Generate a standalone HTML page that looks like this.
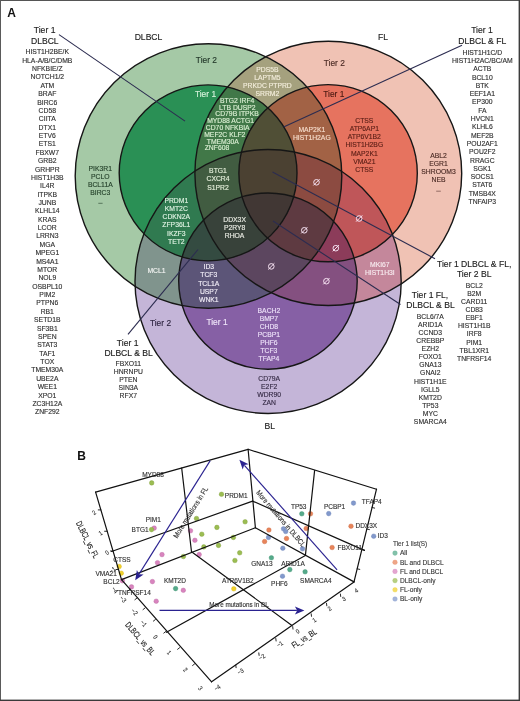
<!DOCTYPE html>
<html><head><meta charset="utf-8"><title>Figure</title>
<style>
html,body{margin:0;padding:0;background:#fff;}
body{width:520px;height:701px;overflow:hidden;}
svg{display:block;will-change:transform;}
text{font-family:"Liberation Sans", sans-serif;}
</style></head>
<body>
<svg width="520" height="701" viewBox="0 0 520 701">
<defs>
<clipPath id="D1"><ellipse cx="208.5" cy="176.0" rx="133.3" ry="132.2"/></clipPath>
<clipPath id="D2"><ellipse cx="208.1" cy="172.9" rx="88.9" ry="88.0"/></clipPath>
<clipPath id="F1"><ellipse cx="328.3" cy="173.4" rx="133.4" ry="132.1"/></clipPath>
<clipPath id="F2"><ellipse cx="328.1" cy="173.2" rx="89.2" ry="88.6"/></clipPath>
<clipPath id="B1"><ellipse cx="268.1" cy="281.45" rx="133.1" ry="132.0"/></clipPath>
<clipPath id="B2"><ellipse cx="267.95" cy="281.1" rx="89.25" ry="88.1"/></clipPath>
</defs>
<rect x="0" y="0" width="520" height="701" fill="#fff"/>
<g clip-path="url(#B1)"><rect x="60" y="30" width="420" height="400" fill="#c4b5d8"/></g>
<g clip-path="url(#B2)"><rect x="60" y="30" width="420" height="400" fill="#8660a5"/></g>
<g clip-path="url(#F1)"><rect x="60" y="30" width="420" height="400" fill="#f0c2b4"/></g>
<g clip-path="url(#F1)"><g clip-path="url(#B1)"><rect x="60" y="30" width="420" height="400" fill="#c4879b"/></g></g>
<g clip-path="url(#F1)"><g clip-path="url(#B2)"><rect x="60" y="30" width="420" height="400" fill="#845080"/></g></g>
<g clip-path="url(#F2)"><rect x="60" y="30" width="420" height="400" fill="#e6735f"/></g>
<g clip-path="url(#F2)"><g clip-path="url(#B1)"><rect x="60" y="30" width="420" height="400" fill="#bf5659"/></g></g>
<g clip-path="url(#F2)"><g clip-path="url(#B2)"><rect x="60" y="30" width="420" height="400" fill="#8c3c5a"/></g></g>
<g clip-path="url(#D1)"><rect x="60" y="30" width="420" height="400" fill="#a5c9a6"/></g>
<g clip-path="url(#D1)"><g clip-path="url(#B1)"><rect x="60" y="30" width="420" height="400" fill="#80948d"/></g></g>
<g clip-path="url(#D1)"><g clip-path="url(#B2)"><rect x="60" y="30" width="420" height="400" fill="#5c5578"/></g></g>
<g clip-path="url(#D1)"><g clip-path="url(#F1)"><rect x="60" y="30" width="420" height="400" fill="#a5a17e"/></g></g>
<g clip-path="url(#D1)"><g clip-path="url(#F1)"><g clip-path="url(#B1)"><rect x="60" y="30" width="420" height="400" fill="#9a8a90"/></g></g></g>
<g clip-path="url(#D1)"><g clip-path="url(#F1)"><g clip-path="url(#B2)"><rect x="60" y="30" width="420" height="400" fill="#5c465f"/></g></g></g>
<g clip-path="url(#D1)"><g clip-path="url(#F2)"><rect x="60" y="30" width="420" height="400" fill="#a26245"/></g></g>
<g clip-path="url(#D1)"><g clip-path="url(#F2)"><g clip-path="url(#B1)"><rect x="60" y="30" width="420" height="400" fill="#8c4b41"/></g></g></g>
<g clip-path="url(#D1)"><g clip-path="url(#F2)"><g clip-path="url(#B2)"><rect x="60" y="30" width="420" height="400" fill="#5e3a41"/></g></g></g>
<g clip-path="url(#D2)"><rect x="60" y="30" width="420" height="400" fill="#2a9055"/></g>
<g clip-path="url(#D2)"><g clip-path="url(#B1)"><rect x="60" y="30" width="420" height="400" fill="#307a50"/></g></g>
<g clip-path="url(#D2)"><g clip-path="url(#B2)"><rect x="60" y="30" width="420" height="400" fill="#344b41"/></g></g>
<g clip-path="url(#D2)"><g clip-path="url(#F1)"><rect x="60" y="30" width="420" height="400" fill="#417848"/></g></g>
<g clip-path="url(#D2)"><g clip-path="url(#F1)"><g clip-path="url(#B1)"><rect x="60" y="30" width="420" height="400" fill="#415c41"/></g></g></g>
<g clip-path="url(#D2)"><g clip-path="url(#F1)"><g clip-path="url(#B2)"><rect x="60" y="30" width="420" height="400" fill="#38423a"/></g></g></g>
<g clip-path="url(#D2)"><g clip-path="url(#F2)"><rect x="60" y="30" width="420" height="400" fill="#504f36"/></g></g>
<g clip-path="url(#D2)"><g clip-path="url(#F2)"><g clip-path="url(#B1)"><rect x="60" y="30" width="420" height="400" fill="#4b4132"/></g></g></g>
<g clip-path="url(#D2)"><g clip-path="url(#F2)"><g clip-path="url(#B2)"><rect x="60" y="30" width="420" height="400" fill="#413734"/></g></g></g>
<ellipse cx="208.5" cy="176.0" rx="133.3" ry="132.2" fill="none" stroke="#161616" stroke-width="1.4"/>
<ellipse cx="208.1" cy="172.9" rx="88.9" ry="88.0" fill="none" stroke="#161616" stroke-width="1.4"/>
<ellipse cx="328.3" cy="173.4" rx="133.4" ry="132.1" fill="none" stroke="#161616" stroke-width="1.4"/>
<ellipse cx="328.1" cy="173.2" rx="89.2" ry="88.6" fill="none" stroke="#161616" stroke-width="1.4"/>
<ellipse cx="268.1" cy="281.45" rx="133.1" ry="132.0" fill="none" stroke="#161616" stroke-width="1.4"/>
<ellipse cx="267.95" cy="281.1" rx="89.25" ry="88.1" fill="none" stroke="#161616" stroke-width="1.4"/>
<line x1="59" y1="34.6" x2="185" y2="121.1" stroke="#2c2c50" stroke-width="1.1"/>
<line x1="462" y1="45.2" x2="283.6" y2="127.0" stroke="#2c2c50" stroke-width="1.1"/>
<line x1="272.5" y1="172" x2="435" y2="258.7" stroke="#2c2c50" stroke-width="1.1"/>
<line x1="273" y1="221" x2="400.5" y2="304.5" stroke="#2c2c50" stroke-width="1.1"/>
<line x1="128" y1="334.4" x2="198" y2="249.5" stroke="#2c2c50" stroke-width="1.1"/>
<g transform="translate(316.5,182.3)" stroke="#f6e2f2" stroke-width="1.0" fill="none"><circle r="2.8"/><line x1="-3.1" y1="3.1" x2="3.1" y2="-3.1"/></g>
<g transform="translate(359.2,218.5)" stroke="#f6e2f2" stroke-width="1.0" fill="none"><circle r="2.8"/><line x1="-3.1" y1="3.1" x2="3.1" y2="-3.1"/></g>
<g transform="translate(304.3,230.3)" stroke="#f6e2f2" stroke-width="1.0" fill="none"><circle r="2.8"/><line x1="-3.1" y1="3.1" x2="3.1" y2="-3.1"/></g>
<g transform="translate(335.8,248.2)" stroke="#f6e2f2" stroke-width="1.0" fill="none"><circle r="2.8"/><line x1="-3.1" y1="3.1" x2="3.1" y2="-3.1"/></g>
<g transform="translate(271.3,266.4)" stroke="#f6e2f2" stroke-width="1.0" fill="none"><circle r="2.8"/><line x1="-3.1" y1="3.1" x2="3.1" y2="-3.1"/></g>
<g transform="translate(326.4,281.2)" stroke="#f6e2f2" stroke-width="1.0" fill="none"><circle r="2.8"/><line x1="-3.1" y1="3.1" x2="3.1" y2="-3.1"/></g>
<text x="11.6" y="17.3" font-size="12" fill="#111" stroke="#111" stroke-width="0" text-anchor="middle" font-weight="bold">A</text>
<text x="148.5" y="39.7" font-size="8.6" fill="#222" stroke="#222" stroke-width="0.14" text-anchor="middle">DLBCL</text>
<text x="383.0" y="39.5" font-size="8.6" fill="#222" stroke="#222" stroke-width="0.14" text-anchor="middle">FL</text>
<text x="269.7" y="429.0" font-size="8.6" fill="#222" stroke="#222" stroke-width="0.14" text-anchor="middle">BL</text>
<text x="206.4" y="63.1" font-size="8.4" fill="#23382a" stroke="#23382a" stroke-width="0.14" text-anchor="middle">Tier 2</text>
<text x="205.5" y="96.5" font-size="8.4" fill="#d8f3dc" stroke="#d8f3dc" stroke-width="0.14" text-anchor="middle">Tier 1</text>
<text x="334.3" y="66.3" font-size="8.4" fill="#4a2a24" stroke="#4a2a24" stroke-width="0.14" text-anchor="middle">Tier 2</text>
<text x="333.8" y="97.0" font-size="8.4" fill="#4a1a12" stroke="#4a1a12" stroke-width="0.14" text-anchor="middle">Tier 1</text>
<text x="160.5" y="325.5" font-size="8.4" fill="#2e2440" stroke="#2e2440" stroke-width="0.14" text-anchor="middle">Tier 2</text>
<text x="217.0" y="324.6" font-size="8.4" fill="#f0e6fa" stroke="#f0e6fa" stroke-width="0.14" text-anchor="middle">Tier 1</text>
<text x="44.6" y="33.1" font-size="8.6" fill="#222" stroke="#222" stroke-width="0.14" text-anchor="middle">Tier 1</text>
<text x="44.8" y="43.8" font-size="8.6" fill="#222" stroke="#222" stroke-width="0.14" text-anchor="middle">DLBCL</text>
<text x="47.3" y="54.3" font-size="6.8" fill="#303030" stroke="#303030" stroke-width="0.14" text-anchor="middle">HIST1H2BE/K</text>
<text x="47.3" y="62.7" font-size="6.8" fill="#303030" stroke="#303030" stroke-width="0.14" text-anchor="middle">HLA-A/B/C/DMB</text>
<text x="47.3" y="71.0" font-size="6.8" fill="#303030" stroke="#303030" stroke-width="0.14" text-anchor="middle">NFKBIE/Z</text>
<text x="47.3" y="79.4" font-size="6.8" fill="#303030" stroke="#303030" stroke-width="0.14" text-anchor="middle">NOTCH1/2</text>
<text x="47.3" y="87.8" font-size="6.8" fill="#303030" stroke="#303030" stroke-width="0.14" text-anchor="middle">ATM</text>
<text x="47.3" y="96.1" font-size="6.8" fill="#303030" stroke="#303030" stroke-width="0.14" text-anchor="middle">BRAF</text>
<text x="47.3" y="104.5" font-size="6.8" fill="#303030" stroke="#303030" stroke-width="0.14" text-anchor="middle">BIRC6</text>
<text x="47.3" y="112.9" font-size="6.8" fill="#303030" stroke="#303030" stroke-width="0.14" text-anchor="middle">CD58</text>
<text x="47.3" y="121.3" font-size="6.8" fill="#303030" stroke="#303030" stroke-width="0.14" text-anchor="middle">CIITA</text>
<text x="47.3" y="129.6" font-size="6.8" fill="#303030" stroke="#303030" stroke-width="0.14" text-anchor="middle">DTX1</text>
<text x="47.3" y="138.0" font-size="6.8" fill="#303030" stroke="#303030" stroke-width="0.14" text-anchor="middle">ETV6</text>
<text x="47.3" y="146.4" font-size="6.8" fill="#303030" stroke="#303030" stroke-width="0.14" text-anchor="middle">ETS1</text>
<text x="47.3" y="154.7" font-size="6.8" fill="#303030" stroke="#303030" stroke-width="0.14" text-anchor="middle">FBXW7</text>
<text x="47.3" y="163.1" font-size="6.8" fill="#303030" stroke="#303030" stroke-width="0.14" text-anchor="middle">GRB2</text>
<text x="47.3" y="171.5" font-size="6.8" fill="#303030" stroke="#303030" stroke-width="0.14" text-anchor="middle">GRHPR</text>
<text x="47.3" y="179.8" font-size="6.8" fill="#303030" stroke="#303030" stroke-width="0.14" text-anchor="middle">HIST1H3B</text>
<text x="47.3" y="188.2" font-size="6.8" fill="#303030" stroke="#303030" stroke-width="0.14" text-anchor="middle">IL4R</text>
<text x="47.3" y="196.6" font-size="6.8" fill="#303030" stroke="#303030" stroke-width="0.14" text-anchor="middle">ITPKB</text>
<text x="47.3" y="205.0" font-size="6.8" fill="#303030" stroke="#303030" stroke-width="0.14" text-anchor="middle">JUNB</text>
<text x="47.3" y="213.3" font-size="6.8" fill="#303030" stroke="#303030" stroke-width="0.14" text-anchor="middle">KLHL14</text>
<text x="47.3" y="221.7" font-size="6.8" fill="#303030" stroke="#303030" stroke-width="0.14" text-anchor="middle">KRAS</text>
<text x="47.3" y="230.1" font-size="6.8" fill="#303030" stroke="#303030" stroke-width="0.14" text-anchor="middle">LCOR</text>
<text x="47.3" y="238.4" font-size="6.8" fill="#303030" stroke="#303030" stroke-width="0.14" text-anchor="middle">LRRN3</text>
<text x="47.3" y="246.8" font-size="6.8" fill="#303030" stroke="#303030" stroke-width="0.14" text-anchor="middle">MGA</text>
<text x="47.3" y="255.2" font-size="6.8" fill="#303030" stroke="#303030" stroke-width="0.14" text-anchor="middle">MPEG1</text>
<text x="47.3" y="263.5" font-size="6.8" fill="#303030" stroke="#303030" stroke-width="0.14" text-anchor="middle">MS4A1</text>
<text x="47.3" y="271.9" font-size="6.8" fill="#303030" stroke="#303030" stroke-width="0.14" text-anchor="middle">MTOR</text>
<text x="47.3" y="280.3" font-size="6.8" fill="#303030" stroke="#303030" stroke-width="0.14" text-anchor="middle">NOL9</text>
<text x="47.3" y="288.7" font-size="6.8" fill="#303030" stroke="#303030" stroke-width="0.14" text-anchor="middle">OSBPL10</text>
<text x="47.3" y="297.0" font-size="6.8" fill="#303030" stroke="#303030" stroke-width="0.14" text-anchor="middle">PIM2</text>
<text x="47.3" y="305.4" font-size="6.8" fill="#303030" stroke="#303030" stroke-width="0.14" text-anchor="middle">PTPN6</text>
<text x="47.3" y="313.8" font-size="6.8" fill="#303030" stroke="#303030" stroke-width="0.14" text-anchor="middle">RB1</text>
<text x="47.3" y="322.1" font-size="6.8" fill="#303030" stroke="#303030" stroke-width="0.14" text-anchor="middle">SETD1B</text>
<text x="47.3" y="330.5" font-size="6.8" fill="#303030" stroke="#303030" stroke-width="0.14" text-anchor="middle">SF3B1</text>
<text x="47.3" y="338.9" font-size="6.8" fill="#303030" stroke="#303030" stroke-width="0.14" text-anchor="middle">SPEN</text>
<text x="47.3" y="347.2" font-size="6.8" fill="#303030" stroke="#303030" stroke-width="0.14" text-anchor="middle">STAT3</text>
<text x="47.3" y="355.6" font-size="6.8" fill="#303030" stroke="#303030" stroke-width="0.14" text-anchor="middle">TAF1</text>
<text x="47.3" y="364.0" font-size="6.8" fill="#303030" stroke="#303030" stroke-width="0.14" text-anchor="middle">TOX</text>
<text x="47.3" y="372.4" font-size="6.8" fill="#303030" stroke="#303030" stroke-width="0.14" text-anchor="middle">TMEM30A</text>
<text x="47.3" y="380.7" font-size="6.8" fill="#303030" stroke="#303030" stroke-width="0.14" text-anchor="middle">UBE2A</text>
<text x="47.3" y="389.1" font-size="6.8" fill="#303030" stroke="#303030" stroke-width="0.14" text-anchor="middle">WEE1</text>
<text x="47.3" y="397.5" font-size="6.8" fill="#303030" stroke="#303030" stroke-width="0.14" text-anchor="middle">XPO1</text>
<text x="47.3" y="405.8" font-size="6.8" fill="#303030" stroke="#303030" stroke-width="0.14" text-anchor="middle">ZC3H12A</text>
<text x="47.3" y="414.2" font-size="6.8" fill="#303030" stroke="#303030" stroke-width="0.14" text-anchor="middle">ZNF292</text>
<text x="482.0" y="33.3" font-size="8.6" fill="#222" stroke="#222" stroke-width="0.14" text-anchor="middle">Tier 1</text>
<text x="482.3" y="43.6" font-size="8.6" fill="#222" stroke="#222" stroke-width="0.14" text-anchor="middle">DLBCL &amp; FL</text>
<text x="482.3" y="54.7" font-size="6.8" fill="#303030" stroke="#303030" stroke-width="0.14" text-anchor="middle">HIST1H1C/D</text>
<text x="482.3" y="63.0" font-size="6.8" fill="#303030" stroke="#303030" stroke-width="0.14" text-anchor="middle">HIST1H2AC/BC/AM</text>
<text x="482.3" y="71.3" font-size="6.8" fill="#303030" stroke="#303030" stroke-width="0.14" text-anchor="middle">ACTB</text>
<text x="482.3" y="79.6" font-size="6.8" fill="#303030" stroke="#303030" stroke-width="0.14" text-anchor="middle">BCL10</text>
<text x="482.3" y="87.9" font-size="6.8" fill="#303030" stroke="#303030" stroke-width="0.14" text-anchor="middle">BTK</text>
<text x="482.3" y="96.2" font-size="6.8" fill="#303030" stroke="#303030" stroke-width="0.14" text-anchor="middle">EEF1A1</text>
<text x="482.3" y="104.4" font-size="6.8" fill="#303030" stroke="#303030" stroke-width="0.14" text-anchor="middle">EP300</text>
<text x="482.3" y="112.7" font-size="6.8" fill="#303030" stroke="#303030" stroke-width="0.14" text-anchor="middle">FA</text>
<text x="482.3" y="121.0" font-size="6.8" fill="#303030" stroke="#303030" stroke-width="0.14" text-anchor="middle">HVCN1</text>
<text x="482.3" y="129.3" font-size="6.8" fill="#303030" stroke="#303030" stroke-width="0.14" text-anchor="middle">KLHL6</text>
<text x="482.3" y="137.6" font-size="6.8" fill="#303030" stroke="#303030" stroke-width="0.14" text-anchor="middle">MEF2B</text>
<text x="482.3" y="145.9" font-size="6.8" fill="#303030" stroke="#303030" stroke-width="0.14" text-anchor="middle">POU2AF1</text>
<text x="482.3" y="154.2" font-size="6.8" fill="#303030" stroke="#303030" stroke-width="0.14" text-anchor="middle">POU2F2</text>
<text x="482.3" y="162.5" font-size="6.8" fill="#303030" stroke="#303030" stroke-width="0.14" text-anchor="middle">RRAGC</text>
<text x="482.3" y="170.8" font-size="6.8" fill="#303030" stroke="#303030" stroke-width="0.14" text-anchor="middle">SGK1</text>
<text x="482.3" y="179.1" font-size="6.8" fill="#303030" stroke="#303030" stroke-width="0.14" text-anchor="middle">SOCS1</text>
<text x="482.3" y="187.3" font-size="6.8" fill="#303030" stroke="#303030" stroke-width="0.14" text-anchor="middle">STAT6</text>
<text x="482.3" y="195.6" font-size="6.8" fill="#303030" stroke="#303030" stroke-width="0.14" text-anchor="middle">TMSB4X</text>
<text x="482.3" y="203.9" font-size="6.8" fill="#303030" stroke="#303030" stroke-width="0.14" text-anchor="middle">TNFAIP3</text>
<text x="474.2" y="266.9" font-size="8.6" fill="#222" stroke="#222" stroke-width="0.14" text-anchor="middle">Tier 1 DLBCL &amp; FL,</text>
<text x="474.2" y="277.2" font-size="8.6" fill="#222" stroke="#222" stroke-width="0.14" text-anchor="middle">Tier 2 BL</text>
<text x="474.2" y="287.5" font-size="6.8" fill="#303030" stroke="#303030" stroke-width="0.14" text-anchor="middle">BCL2</text>
<text x="474.2" y="295.6" font-size="6.8" fill="#303030" stroke="#303030" stroke-width="0.14" text-anchor="middle">B2M</text>
<text x="474.2" y="303.8" font-size="6.8" fill="#303030" stroke="#303030" stroke-width="0.14" text-anchor="middle">CARD11</text>
<text x="474.2" y="311.9" font-size="6.8" fill="#303030" stroke="#303030" stroke-width="0.14" text-anchor="middle">CD83</text>
<text x="474.2" y="320.1" font-size="6.8" fill="#303030" stroke="#303030" stroke-width="0.14" text-anchor="middle">EBF1</text>
<text x="474.2" y="328.2" font-size="6.8" fill="#303030" stroke="#303030" stroke-width="0.14" text-anchor="middle">HIST1H1B</text>
<text x="474.2" y="336.3" font-size="6.8" fill="#303030" stroke="#303030" stroke-width="0.14" text-anchor="middle">IRF8</text>
<text x="474.2" y="344.5" font-size="6.8" fill="#303030" stroke="#303030" stroke-width="0.14" text-anchor="middle">PIM1</text>
<text x="474.2" y="352.6" font-size="6.8" fill="#303030" stroke="#303030" stroke-width="0.14" text-anchor="middle">TBL1XR1</text>
<text x="474.2" y="360.8" font-size="6.8" fill="#303030" stroke="#303030" stroke-width="0.14" text-anchor="middle">TNFRSF14</text>
<text x="430.0" y="297.5" font-size="8.6" fill="#222" stroke="#222" stroke-width="0.14" text-anchor="middle">Tier 1 FL,</text>
<text x="430.5" y="307.7" font-size="8.6" fill="#222" stroke="#222" stroke-width="0.14" text-anchor="middle">DLBCL &amp; BL</text>
<text x="430.3" y="318.5" font-size="6.8" fill="#303030" stroke="#303030" stroke-width="0.14" text-anchor="middle">BCL6/7A</text>
<text x="430.3" y="326.6" font-size="6.8" fill="#303030" stroke="#303030" stroke-width="0.14" text-anchor="middle">ARID1A</text>
<text x="430.3" y="334.7" font-size="6.8" fill="#303030" stroke="#303030" stroke-width="0.14" text-anchor="middle">CCND3</text>
<text x="430.3" y="342.9" font-size="6.8" fill="#303030" stroke="#303030" stroke-width="0.14" text-anchor="middle">CREBBP</text>
<text x="430.3" y="351.0" font-size="6.8" fill="#303030" stroke="#303030" stroke-width="0.14" text-anchor="middle">EZH2</text>
<text x="430.3" y="359.1" font-size="6.8" fill="#303030" stroke="#303030" stroke-width="0.14" text-anchor="middle">FOXO1</text>
<text x="430.3" y="367.2" font-size="6.8" fill="#303030" stroke="#303030" stroke-width="0.14" text-anchor="middle">GNA13</text>
<text x="430.3" y="375.3" font-size="6.8" fill="#303030" stroke="#303030" stroke-width="0.14" text-anchor="middle">GNAI2</text>
<text x="430.3" y="383.5" font-size="6.8" fill="#303030" stroke="#303030" stroke-width="0.14" text-anchor="middle">HIST1H1E</text>
<text x="430.3" y="391.6" font-size="6.8" fill="#303030" stroke="#303030" stroke-width="0.14" text-anchor="middle">IGLL5</text>
<text x="430.3" y="399.7" font-size="6.8" fill="#303030" stroke="#303030" stroke-width="0.14" text-anchor="middle">KMT2D</text>
<text x="430.3" y="407.8" font-size="6.8" fill="#303030" stroke="#303030" stroke-width="0.14" text-anchor="middle">TP53</text>
<text x="430.3" y="415.9" font-size="6.8" fill="#303030" stroke="#303030" stroke-width="0.14" text-anchor="middle">MYC</text>
<text x="430.3" y="424.1" font-size="6.8" fill="#303030" stroke="#303030" stroke-width="0.14" text-anchor="middle">SMARCA4</text>
<text x="127.7" y="346.0" font-size="8.6" fill="#222" stroke="#222" stroke-width="0.14" text-anchor="middle">Tier 1</text>
<text x="128.6" y="356.0" font-size="8.6" fill="#222" stroke="#222" stroke-width="0.14" text-anchor="middle">DLBCL &amp; BL</text>
<text x="128.3" y="365.8" font-size="6.8" fill="#303030" stroke="#303030" stroke-width="0.14" text-anchor="middle">FBXO11</text>
<text x="128.3" y="373.9" font-size="6.8" fill="#303030" stroke="#303030" stroke-width="0.14" text-anchor="middle">HNRNPU</text>
<text x="128.3" y="382.1" font-size="6.8" fill="#303030" stroke="#303030" stroke-width="0.14" text-anchor="middle">PTEN</text>
<text x="128.3" y="390.2" font-size="6.8" fill="#303030" stroke="#303030" stroke-width="0.14" text-anchor="middle">SIN3A</text>
<text x="128.3" y="398.3" font-size="6.8" fill="#303030" stroke="#303030" stroke-width="0.14" text-anchor="middle">RFX7</text>
<text x="100.3" y="170.7" font-size="6.8" fill="#24402a" stroke="#24402a" stroke-width="0.14" text-anchor="middle">PIK3R1</text>
<text x="100.3" y="178.9" font-size="6.8" fill="#24402a" stroke="#24402a" stroke-width="0.14" text-anchor="middle">PCLO</text>
<text x="100.3" y="187.1" font-size="6.8" fill="#24402a" stroke="#24402a" stroke-width="0.14" text-anchor="middle">BCL11A</text>
<text x="100.3" y="195.3" font-size="6.8" fill="#24402a" stroke="#24402a" stroke-width="0.14" text-anchor="middle">BIRC3</text>
<line x1="98.3" y1="203.3" x2="102.6" y2="203.3" stroke="#24402a" stroke-width="0.8" stroke-opacity="0.75"/>
<text x="267.4" y="72.0" font-size="6.8" fill="#f4eedc" stroke="#f4eedc" stroke-width="0.14" text-anchor="middle">PDS5B</text>
<text x="267.4" y="80.0" font-size="6.8" fill="#f4eedc" stroke="#f4eedc" stroke-width="0.14" text-anchor="middle">LAPTM5</text>
<text x="267.4" y="88.0" font-size="6.8" fill="#f4eedc" stroke="#f4eedc" stroke-width="0.14" text-anchor="middle">PRKDC PTPRD</text>
<text x="267.4" y="96.0" font-size="6.8" fill="#f4eedc" stroke="#f4eedc" stroke-width="0.14" text-anchor="middle">SRRM2</text>
<text x="237.2" y="102.8" font-size="6.8" fill="#dcf0d4" stroke="#dcf0d4" stroke-width="0.14" text-anchor="middle">BTG2 IRF4</text>
<text x="237.3" y="109.6" font-size="6.8" fill="#dcf0d4" stroke="#dcf0d4" stroke-width="0.14" text-anchor="middle">LTB DUSP2</text>
<text x="237.0" y="116.4" font-size="6.8" fill="#dcf0d4" stroke="#dcf0d4" stroke-width="0.14" text-anchor="middle">CD79B ITPKB</text>
<text x="230.6" y="123.2" font-size="6.8" fill="#dcf0d4" stroke="#dcf0d4" stroke-width="0.14" text-anchor="middle">MYD88 ACTG1</text>
<text x="227.7" y="130.0" font-size="6.8" fill="#dcf0d4" stroke="#dcf0d4" stroke-width="0.14" text-anchor="middle">CD70 NFKBIA</text>
<text x="224.8" y="136.8" font-size="6.8" fill="#dcf0d4" stroke="#dcf0d4" stroke-width="0.14" text-anchor="middle">MEF2C KLF2</text>
<text x="222.8" y="143.6" font-size="6.8" fill="#dcf0d4" stroke="#dcf0d4" stroke-width="0.14" text-anchor="middle">TMEM30A</text>
<text x="217.0" y="150.4" font-size="6.8" fill="#dcf0d4" stroke="#dcf0d4" stroke-width="0.14" text-anchor="middle">ZNF608</text>
<text x="364.3" y="122.6" font-size="6.8" fill="#5a1e16" stroke="#5a1e16" stroke-width="0.14" text-anchor="middle">CTSS</text>
<text x="364.3" y="130.9" font-size="6.8" fill="#5a1e16" stroke="#5a1e16" stroke-width="0.14" text-anchor="middle">ATP6AP1</text>
<text x="364.3" y="139.2" font-size="6.8" fill="#5a1e16" stroke="#5a1e16" stroke-width="0.14" text-anchor="middle">ATP6V1B2</text>
<text x="364.3" y="147.4" font-size="6.8" fill="#5a1e16" stroke="#5a1e16" stroke-width="0.14" text-anchor="middle">HIST1H2BG</text>
<text x="364.3" y="155.7" font-size="6.8" fill="#5a1e16" stroke="#5a1e16" stroke-width="0.14" text-anchor="middle">MAP2K1</text>
<text x="364.3" y="164.0" font-size="6.8" fill="#5a1e16" stroke="#5a1e16" stroke-width="0.14" text-anchor="middle">VMA21</text>
<text x="364.3" y="172.3" font-size="6.8" fill="#5a1e16" stroke="#5a1e16" stroke-width="0.14" text-anchor="middle">CTSS</text>
<text x="311.8" y="132.1" font-size="6.8" fill="#f6dccb" stroke="#f6dccb" stroke-width="0.14" text-anchor="middle">MAP2K1</text>
<text x="311.8" y="139.8" font-size="6.8" fill="#f6dccb" stroke="#f6dccb" stroke-width="0.14" text-anchor="middle">HIST1H2AG</text>
<text x="438.5" y="157.7" font-size="6.8" fill="#4a2a24" stroke="#4a2a24" stroke-width="0.14" text-anchor="middle">ABL2</text>
<text x="438.5" y="165.8" font-size="6.8" fill="#4a2a24" stroke="#4a2a24" stroke-width="0.14" text-anchor="middle">EGR1</text>
<text x="438.5" y="173.9" font-size="6.8" fill="#4a2a24" stroke="#4a2a24" stroke-width="0.14" text-anchor="middle">SHROOM3</text>
<text x="438.5" y="182.0" font-size="6.8" fill="#4a2a24" stroke="#4a2a24" stroke-width="0.14" text-anchor="middle">NEB</text>
<line x1="436.2" y1="191.2" x2="440.8" y2="191.2" stroke="#4a2a24" stroke-width="0.8" stroke-opacity="0.7"/>
<text x="218.0" y="172.7" font-size="6.8" fill="#e6f0dc" stroke="#e6f0dc" stroke-width="0.14" text-anchor="middle">BTG1</text>
<text x="218.0" y="181.1" font-size="6.8" fill="#e6f0dc" stroke="#e6f0dc" stroke-width="0.14" text-anchor="middle">CXCR4</text>
<text x="218.0" y="189.6" font-size="6.8" fill="#e6f0dc" stroke="#e6f0dc" stroke-width="0.14" text-anchor="middle">S1PR2</text>
<text x="176.3" y="202.9" font-size="6.8" fill="#dff3e2" stroke="#dff3e2" stroke-width="0.14" text-anchor="middle">PRDM1</text>
<text x="176.3" y="211.1" font-size="6.8" fill="#dff3e2" stroke="#dff3e2" stroke-width="0.14" text-anchor="middle">KMT2C</text>
<text x="176.3" y="219.3" font-size="6.8" fill="#dff3e2" stroke="#dff3e2" stroke-width="0.14" text-anchor="middle">CDKN2A</text>
<text x="176.3" y="227.4" font-size="6.8" fill="#dff3e2" stroke="#dff3e2" stroke-width="0.14" text-anchor="middle">ZFP36L1</text>
<text x="176.3" y="235.6" font-size="6.8" fill="#dff3e2" stroke="#dff3e2" stroke-width="0.14" text-anchor="middle">IKZF3</text>
<text x="176.3" y="243.8" font-size="6.8" fill="#dff3e2" stroke="#dff3e2" stroke-width="0.14" text-anchor="middle">TET2</text>
<text x="234.6" y="221.5" font-size="6.8" fill="#eceee6" stroke="#eceee6" stroke-width="0.14" text-anchor="middle">DDX3X</text>
<text x="234.6" y="229.6" font-size="6.8" fill="#eceee6" stroke="#eceee6" stroke-width="0.14" text-anchor="middle">P2RY8</text>
<text x="234.6" y="237.7" font-size="6.8" fill="#eceee6" stroke="#eceee6" stroke-width="0.14" text-anchor="middle">RHOA</text>
<text x="156.5" y="273.0" font-size="6.8" fill="#f2f4f2" stroke="#f2f4f2" stroke-width="0.14" text-anchor="middle">MCL1</text>
<text x="208.8" y="269.2" font-size="6.8" fill="#f2eef8" stroke="#f2eef8" stroke-width="0.14" text-anchor="middle">ID3</text>
<text x="208.8" y="277.4" font-size="6.8" fill="#f2eef8" stroke="#f2eef8" stroke-width="0.14" text-anchor="middle">TCF3</text>
<text x="208.8" y="285.6" font-size="6.8" fill="#f2eef8" stroke="#f2eef8" stroke-width="0.14" text-anchor="middle">TCL1A</text>
<text x="208.8" y="293.8" font-size="6.8" fill="#f2eef8" stroke="#f2eef8" stroke-width="0.14" text-anchor="middle">USP7</text>
<text x="208.8" y="302.0" font-size="6.8" fill="#f2eef8" stroke="#f2eef8" stroke-width="0.14" text-anchor="middle">WNK1</text>
<text x="379.8" y="266.8" font-size="6.8" fill="#f8ecf0" stroke="#f8ecf0" stroke-width="0.14" text-anchor="middle">MKI67</text>
<text x="379.8" y="275.0" font-size="6.8" fill="#f8ecf0" stroke="#f8ecf0" stroke-width="0.14" text-anchor="middle">HIST1H3I</text>
<text x="268.9" y="312.8" font-size="6.8" fill="#eee2fa" stroke="#eee2fa" stroke-width="0.14" text-anchor="middle">BACH2</text>
<text x="268.9" y="320.9" font-size="6.8" fill="#eee2fa" stroke="#eee2fa" stroke-width="0.14" text-anchor="middle">BMP7</text>
<text x="268.9" y="328.9" font-size="6.8" fill="#eee2fa" stroke="#eee2fa" stroke-width="0.14" text-anchor="middle">CHD8</text>
<text x="268.9" y="337.0" font-size="6.8" fill="#eee2fa" stroke="#eee2fa" stroke-width="0.14" text-anchor="middle">PCBP1</text>
<text x="268.9" y="345.1" font-size="6.8" fill="#eee2fa" stroke="#eee2fa" stroke-width="0.14" text-anchor="middle">PHF6</text>
<text x="268.9" y="353.2" font-size="6.8" fill="#eee2fa" stroke="#eee2fa" stroke-width="0.14" text-anchor="middle">TCF3</text>
<text x="268.9" y="361.2" font-size="6.8" fill="#eee2fa" stroke="#eee2fa" stroke-width="0.14" text-anchor="middle">TFAP4</text>
<text x="269.2" y="380.5" font-size="6.8" fill="#352a45" stroke="#352a45" stroke-width="0.14" text-anchor="middle">CD79A</text>
<text x="269.2" y="388.6" font-size="6.8" fill="#352a45" stroke="#352a45" stroke-width="0.14" text-anchor="middle">E2F2</text>
<text x="269.2" y="396.6" font-size="6.8" fill="#352a45" stroke="#352a45" stroke-width="0.14" text-anchor="middle">WDR90</text>
<text x="269.2" y="404.6" font-size="6.8" fill="#352a45" stroke="#352a45" stroke-width="0.14" text-anchor="middle">ZAN</text>
<text x="81.5" y="459.7" font-size="12" fill="#111" stroke="#111" stroke-width="0" text-anchor="middle" font-weight="bold">B</text>
<circle cx="151.7" cy="482.9" r="2.3" fill="#9bbd52" stroke="#7e9c38" stroke-width="0.4"/>
<circle cx="221.5" cy="494.3" r="2.3" fill="#9bbd52" stroke="#7e9c38" stroke-width="0.4"/>
<circle cx="154.2" cy="528.1" r="2.3" fill="#d884be" stroke="#bc68a2" stroke-width="0.4"/>
<circle cx="151.5" cy="529.6" r="2.3" fill="#9bbd52" stroke="#7e9c38" stroke-width="0.4"/>
<circle cx="196.5" cy="518.5" r="2.3" fill="#9bbd52" stroke="#7e9c38" stroke-width="0.4"/>
<circle cx="245.1" cy="521.8" r="2.3" fill="#9bbd52" stroke="#7e9c38" stroke-width="0.4"/>
<circle cx="216.9" cy="527.4" r="2.3" fill="#9bbd52" stroke="#7e9c38" stroke-width="0.4"/>
<circle cx="201.8" cy="534.2" r="2.3" fill="#9bbd52" stroke="#7e9c38" stroke-width="0.4"/>
<circle cx="190.5" cy="530.8" r="2.3" fill="#d884be" stroke="#bc68a2" stroke-width="0.4"/>
<circle cx="194.9" cy="540.3" r="2.3" fill="#d884be" stroke="#bc68a2" stroke-width="0.4"/>
<circle cx="203.8" cy="546.9" r="2.3" fill="#9bbd52" stroke="#7e9c38" stroke-width="0.4"/>
<circle cx="218.5" cy="545.4" r="2.3" fill="#9bbd52" stroke="#7e9c38" stroke-width="0.4"/>
<circle cx="233.4" cy="537.4" r="2.3" fill="#9bbd52" stroke="#7e9c38" stroke-width="0.4"/>
<circle cx="199.2" cy="554.6" r="2.3" fill="#d884be" stroke="#bc68a2" stroke-width="0.4"/>
<circle cx="183.4" cy="556.5" r="2.3" fill="#9bbd52" stroke="#7e9c38" stroke-width="0.4"/>
<circle cx="239.7" cy="552.8" r="2.3" fill="#9bbd52" stroke="#7e9c38" stroke-width="0.4"/>
<circle cx="234.9" cy="560.5" r="2.3" fill="#9bbd52" stroke="#7e9c38" stroke-width="0.4"/>
<circle cx="162.0" cy="554.6" r="2.3" fill="#d884be" stroke="#bc68a2" stroke-width="0.4"/>
<circle cx="157.5" cy="562.7" r="2.3" fill="#d884be" stroke="#bc68a2" stroke-width="0.4"/>
<circle cx="119.2" cy="566.5" r="2.3" fill="#f0d02c" stroke="#d4b414" stroke-width="0.4"/>
<circle cx="121.3" cy="573.2" r="2.3" fill="#f0d02c" stroke="#d4b414" stroke-width="0.4"/>
<circle cx="122.4" cy="580.7" r="2.3" fill="#d884be" stroke="#bc68a2" stroke-width="0.4"/>
<circle cx="131.5" cy="586.9" r="2.3" fill="#d884be" stroke="#bc68a2" stroke-width="0.4"/>
<circle cx="152.4" cy="581.6" r="2.3" fill="#d884be" stroke="#bc68a2" stroke-width="0.4"/>
<circle cx="156.2" cy="601.2" r="2.3" fill="#d884be" stroke="#bc68a2" stroke-width="0.4"/>
<circle cx="175.6" cy="588.6" r="2.3" fill="#55aa8a" stroke="#3a8f70" stroke-width="0.4"/>
<circle cx="183.3" cy="590.3" r="2.3" fill="#d884be" stroke="#bc68a2" stroke-width="0.4"/>
<circle cx="233.8" cy="588.8" r="2.3" fill="#f0d02c" stroke="#d4b414" stroke-width="0.4"/>
<circle cx="301.8" cy="513.8" r="2.3" fill="#55aa8a" stroke="#3a8f70" stroke-width="0.4"/>
<circle cx="310.5" cy="513.8" r="2.3" fill="#e8845a" stroke="#c8643c" stroke-width="0.4"/>
<circle cx="328.7" cy="513.6" r="2.3" fill="#8299cc" stroke="#6a80b5" stroke-width="0.4"/>
<circle cx="353.5" cy="503.1" r="2.3" fill="#8299cc" stroke="#6a80b5" stroke-width="0.4"/>
<circle cx="351.0" cy="526.2" r="2.3" fill="#e8845a" stroke="#c8643c" stroke-width="0.4"/>
<circle cx="373.7" cy="536.2" r="2.3" fill="#8299cc" stroke="#6a80b5" stroke-width="0.4"/>
<circle cx="332.1" cy="547.5" r="2.3" fill="#e8845a" stroke="#c8643c" stroke-width="0.4"/>
<circle cx="268.9" cy="530.0" r="2.3" fill="#e8845a" stroke="#c8643c" stroke-width="0.4"/>
<circle cx="283.5" cy="528.8" r="2.3" fill="#8299cc" stroke="#6a80b5" stroke-width="0.4"/>
<circle cx="285.7" cy="531.5" r="2.3" fill="#8299cc" stroke="#6a80b5" stroke-width="0.4"/>
<circle cx="306.2" cy="528.5" r="2.3" fill="#e8845a" stroke="#c8643c" stroke-width="0.4"/>
<circle cx="286.5" cy="538.5" r="2.3" fill="#e8845a" stroke="#c8643c" stroke-width="0.4"/>
<circle cx="268.5" cy="537.4" r="2.3" fill="#8299cc" stroke="#6a80b5" stroke-width="0.4"/>
<circle cx="264.6" cy="541.5" r="2.3" fill="#e8845a" stroke="#c8643c" stroke-width="0.4"/>
<circle cx="282.8" cy="548.2" r="2.3" fill="#8299cc" stroke="#6a80b5" stroke-width="0.4"/>
<circle cx="302.5" cy="548.8" r="2.3" fill="#8299cc" stroke="#6a80b5" stroke-width="0.4"/>
<circle cx="271.4" cy="557.8" r="2.3" fill="#55aa8a" stroke="#3a8f70" stroke-width="0.4"/>
<circle cx="289.8" cy="569.6" r="2.3" fill="#55aa8a" stroke="#3a8f70" stroke-width="0.4"/>
<circle cx="305.1" cy="571.8" r="2.3" fill="#55aa8a" stroke="#3a8f70" stroke-width="0.4"/>
<circle cx="282.5" cy="576.2" r="2.3" fill="#8299cc" stroke="#6a80b5" stroke-width="0.4"/>
<line x1="95.6" y1="492.1" x2="248.1" y2="449.3" stroke="#111" stroke-width="1.2" stroke-linecap="round"/>
<line x1="248.1" y1="449.3" x2="376.5" y2="489.2" stroke="#111" stroke-width="1.2" stroke-linecap="round"/>
<line x1="95.6" y1="492.1" x2="121.5" y2="579.6" stroke="#111" stroke-width="1.2" stroke-linecap="round"/>
<line x1="248.1" y1="449.3" x2="255.4" y2="527.7" stroke="#111" stroke-width="1.2" stroke-linecap="round"/>
<line x1="376.5" y1="489.2" x2="354.0" y2="581.9" stroke="#111" stroke-width="1.2" stroke-linecap="round"/>
<line x1="121.5" y1="579.6" x2="255.4" y2="527.7" stroke="#111" stroke-width="1.2" stroke-linecap="round"/>
<line x1="255.4" y1="527.7" x2="354.0" y2="581.9" stroke="#111" stroke-width="1.2" stroke-linecap="round"/>
<line x1="121.5" y1="579.6" x2="211.6" y2="681.8" stroke="#111" stroke-width="1.2" stroke-linecap="round"/>
<line x1="211.6" y1="681.8" x2="354.0" y2="581.9" stroke="#111" stroke-width="1.2" stroke-linecap="round"/>
<line x1="111.6" y1="551.5" x2="252.6" y2="501.1" stroke="#111" stroke-width="1.2" stroke-linecap="round"/>
<line x1="181.7" y1="468.2" x2="191.5" y2="551.8" stroke="#111" stroke-width="1.2" stroke-linecap="round"/>
<line x1="252.6" y1="501.1" x2="364.4" y2="550.4" stroke="#111" stroke-width="1.2" stroke-linecap="round"/>
<line x1="314.6" y1="470.6" x2="305.4" y2="555.4" stroke="#111" stroke-width="1.2" stroke-linecap="round"/>
<line x1="191.5" y1="551.8" x2="291.6" y2="625.2" stroke="#111" stroke-width="1.2" stroke-linecap="round"/>
<line x1="305.4" y1="555.4" x2="166.5" y2="632.3" stroke="#111" stroke-width="1.2" stroke-linecap="round"/>
<line x1="100.86879999999998" y1="509.9" x2="98.26879999999998" y2="509.9" stroke="#111" stroke-width="0.9" stroke-linecap="round"/>
<line x1="107.18839999999999" y1="531.25" x2="104.5884" y2="531.25" stroke="#111" stroke-width="0.9" stroke-linecap="round"/>
<line x1="113.03439999999999" y1="551.0" x2="110.4344" y2="551.0" stroke="#111" stroke-width="0.9" stroke-linecap="round"/>
<line x1="118.51039999999999" y1="569.5" x2="115.9104" y2="569.5" stroke="#111" stroke-width="0.9" stroke-linecap="round"/>
<line x1="130.0" y1="589.3" x2="128.0" y2="590.9" stroke="#111" stroke-width="0.9" stroke-linecap="round"/>
<line x1="136.9" y1="598.1" x2="134.9" y2="599.7" stroke="#111" stroke-width="0.9" stroke-linecap="round"/>
<line x1="145.0" y1="608.0" x2="143.0" y2="609.6" stroke="#111" stroke-width="0.9" stroke-linecap="round"/>
<line x1="155.4" y1="619.5" x2="153.4" y2="621.1" stroke="#111" stroke-width="0.9" stroke-linecap="round"/>
<line x1="165.8" y1="631.5" x2="163.8" y2="633.1" stroke="#111" stroke-width="0.9" stroke-linecap="round"/>
<line x1="179.6" y1="647.7" x2="177.6" y2="649.3000000000001" stroke="#111" stroke-width="0.9" stroke-linecap="round"/>
<line x1="194.6" y1="663.9" x2="192.6" y2="665.5" stroke="#111" stroke-width="0.9" stroke-linecap="round"/>
<line x1="235.8" y1="665.2" x2="236.10000000000002" y2="667.7" stroke="#111" stroke-width="0.9" stroke-linecap="round"/>
<line x1="258.8" y1="652.9" x2="259.1" y2="655.4" stroke="#111" stroke-width="0.9" stroke-linecap="round"/>
<line x1="275.8" y1="638.5" x2="276.1" y2="641.0" stroke="#111" stroke-width="0.9" stroke-linecap="round"/>
<line x1="292.7" y1="626.6" x2="293.0" y2="629.1" stroke="#111" stroke-width="0.9" stroke-linecap="round"/>
<line x1="311.2" y1="613.8" x2="311.5" y2="616.3" stroke="#111" stroke-width="0.9" stroke-linecap="round"/>
<line x1="326.5" y1="603.3" x2="326.8" y2="605.8" stroke="#111" stroke-width="0.9" stroke-linecap="round"/>
<line x1="340.4" y1="594.0" x2="340.7" y2="596.5" stroke="#111" stroke-width="0.9" stroke-linecap="round"/>
<line x1="372.05825242718447" y1="507.5" x2="374.6582524271845" y2="508.1" stroke="#111" stroke-width="0.9" stroke-linecap="round"/>
<line x1="366.8398058252427" y1="529.0" x2="369.43980582524273" y2="529.6" stroke="#111" stroke-width="0.9" stroke-linecap="round"/>
<line x1="361.8640776699029" y1="549.5" x2="364.4640776699029" y2="550.1" stroke="#111" stroke-width="0.9" stroke-linecap="round"/>
<line x1="357.1796116504854" y1="568.8" x2="359.77961165048544" y2="569.4" stroke="#111" stroke-width="0.9" stroke-linecap="round"/>
<line x1="210.2" y1="460.6" x2="139.2" y2="573.9" stroke="#2a2290" stroke-width="1.15"/>
<path d="M135.2,580.3 L136.9,570.1 L139.0,574.2 L143.6,574.4 Z" fill="#2a2290"/>
<line x1="337.1" y1="569.8" x2="244.4" y2="465.3" stroke="#2a2290" stroke-width="1.15"/>
<path d="M239.4,459.7 L248.7,464.2 L244.2,465.1 L242.7,469.5 Z" fill="#2a2290"/>
<line x1="159.5" y1="610.4" x2="296.9" y2="610.4" stroke="#2a2290" stroke-width="1.15"/>
<path d="M304.4,610.4 L294.9,614.4 L297.2,610.4 L294.9,606.4 Z" fill="#2a2290"/>
<text transform="translate(190.6,512.3) rotate(-57.9) scale(0.86,1)" font-size="7.3" fill="#333" stroke="#333" stroke-width="0.14" text-anchor="middle" y="2.63">More mutations in FL</text>
<text transform="translate(281.0,518.3) rotate(49.5) scale(0.86,1)" font-size="7.3" fill="#333" stroke="#333" stroke-width="0.14" text-anchor="middle" y="2.63">More mutations in DLBCL</text>
<text transform="translate(239.0,604.2) rotate(0.0) scale(0.9,1)" font-size="7.0" fill="#333" stroke="#333" stroke-width="0.14" text-anchor="middle" y="2.52">More mutations in BL</text>
<text transform="translate(87.6,539.6) rotate(63.0) scale(0.72,1)" font-size="8.6" fill="#222" stroke="#222" stroke-width="0.14" text-anchor="middle" y="3.10">DLBCL_vs_FL</text>
<text transform="translate(140.4,638.4) rotate(49.4) scale(0.72,1)" font-size="8.6" fill="#222" stroke="#222" stroke-width="0.14" text-anchor="middle" y="3.10">DLBCL_vs_BL</text>
<text transform="translate(304.0,638.4) rotate(-33.0) scale(0.72,1)" font-size="8.6" fill="#222" stroke="#222" stroke-width="0.14" text-anchor="middle" y="3.10">FL_vs_BL</text>
<text transform="translate(94.0,512.5) rotate(-35.0) scale(0.85,1)" font-size="6.4" fill="#333" stroke="#333" stroke-width="0.14" text-anchor="middle" y="2.30">2</text>
<text transform="translate(100.5,532.9) rotate(-35.0) scale(0.85,1)" font-size="6.4" fill="#333" stroke="#333" stroke-width="0.14" text-anchor="middle" y="2.30">1</text>
<text transform="translate(107.0,552.5) rotate(-35.0) scale(0.85,1)" font-size="6.4" fill="#333" stroke="#333" stroke-width="0.14" text-anchor="middle" y="2.30">0</text>
<text transform="translate(112.3,570.0) rotate(-35.0) scale(0.85,1)" font-size="6.4" fill="#333" stroke="#333" stroke-width="0.14" text-anchor="middle" y="2.30">−1</text>
<text transform="translate(115.0,590.0) rotate(50.0) scale(0.85,1)" font-size="6.4" fill="#333" stroke="#333" stroke-width="0.14" text-anchor="middle" y="2.30">−4</text>
<text transform="translate(123.1,599.2) rotate(50.0) scale(0.85,1)" font-size="6.4" fill="#333" stroke="#333" stroke-width="0.14" text-anchor="middle" y="2.30">−3</text>
<text transform="translate(134.6,611.9) rotate(50.0) scale(0.85,1)" font-size="6.4" fill="#333" stroke="#333" stroke-width="0.14" text-anchor="middle" y="2.30">−2</text>
<text transform="translate(143.8,623.5) rotate(50.0) scale(0.85,1)" font-size="6.4" fill="#333" stroke="#333" stroke-width="0.14" text-anchor="middle" y="2.30">−1</text>
<text transform="translate(155.4,636.8) rotate(50.0) scale(0.85,1)" font-size="6.4" fill="#333" stroke="#333" stroke-width="0.14" text-anchor="middle" y="2.30">0</text>
<text transform="translate(169.2,652.3) rotate(50.0) scale(0.85,1)" font-size="6.4" fill="#333" stroke="#333" stroke-width="0.14" text-anchor="middle" y="2.30">1</text>
<text transform="translate(185.4,669.6) rotate(50.0) scale(0.85,1)" font-size="6.4" fill="#333" stroke="#333" stroke-width="0.14" text-anchor="middle" y="2.30">2</text>
<text transform="translate(200.4,688.1) rotate(50.0) scale(0.85,1)" font-size="6.4" fill="#333" stroke="#333" stroke-width="0.14" text-anchor="middle" y="2.30">3</text>
<text transform="translate(217.3,687.7) rotate(-33.0) scale(0.85,1)" font-size="6.4" fill="#333" stroke="#333" stroke-width="0.14" text-anchor="middle" y="2.30">−4</text>
<text transform="translate(240.4,671.4) rotate(-33.0) scale(0.85,1)" font-size="6.4" fill="#333" stroke="#333" stroke-width="0.14" text-anchor="middle" y="2.30">−3</text>
<text transform="translate(261.9,656.9) rotate(-33.0) scale(0.85,1)" font-size="6.4" fill="#333" stroke="#333" stroke-width="0.14" text-anchor="middle" y="2.30">−2</text>
<text transform="translate(279.8,644.0) rotate(-33.0) scale(0.85,1)" font-size="6.4" fill="#333" stroke="#333" stroke-width="0.14" text-anchor="middle" y="2.30">−1</text>
<text transform="translate(297.5,631.2) rotate(-33.0) scale(0.85,1)" font-size="6.4" fill="#333" stroke="#333" stroke-width="0.14" text-anchor="middle" y="2.30">0</text>
<text transform="translate(314.2,620.0) rotate(-33.0) scale(0.85,1)" font-size="6.4" fill="#333" stroke="#333" stroke-width="0.14" text-anchor="middle" y="2.30">1</text>
<text transform="translate(329.6,608.6) rotate(-33.0) scale(0.85,1)" font-size="6.4" fill="#333" stroke="#333" stroke-width="0.14" text-anchor="middle" y="2.30">2</text>
<text transform="translate(343.8,598.7) rotate(-33.0) scale(0.85,1)" font-size="6.4" fill="#333" stroke="#333" stroke-width="0.14" text-anchor="middle" y="2.30">3</text>
<text transform="translate(356.3,590.4) rotate(-33.0) scale(0.85,1)" font-size="6.4" fill="#333" stroke="#333" stroke-width="0.14" text-anchor="middle" y="2.30">4</text>
<text x="153.0" y="476.7" font-size="6.5" fill="#333" stroke="#333" stroke-width="0.14" text-anchor="middle">MYD88</text>
<text x="236.2" y="498.0" font-size="6.5" fill="#333" stroke="#333" stroke-width="0.14" text-anchor="middle">PRDM1</text>
<text x="153.3" y="521.9" font-size="6.5" fill="#333" stroke="#333" stroke-width="0.14" text-anchor="middle">PIM1</text>
<text x="140.1" y="531.5" font-size="6.5" fill="#333" stroke="#333" stroke-width="0.14" text-anchor="middle">BTG1</text>
<text x="122.0" y="561.7" font-size="6.5" fill="#333" stroke="#333" stroke-width="0.14" text-anchor="middle">CTSS</text>
<text x="106.2" y="576.0" font-size="6.5" fill="#333" stroke="#333" stroke-width="0.14" text-anchor="middle">VMA21</text>
<text x="111.5" y="583.6" font-size="6.5" fill="#333" stroke="#333" stroke-width="0.14" text-anchor="middle">BCL2</text>
<text x="134.4" y="595.0" font-size="6.5" fill="#333" stroke="#333" stroke-width="0.14" text-anchor="middle">TNFRSF14</text>
<text x="174.9" y="583.2" font-size="6.5" fill="#333" stroke="#333" stroke-width="0.14" text-anchor="middle">KMT2D</text>
<text x="237.9" y="582.7" font-size="6.5" fill="#333" stroke="#333" stroke-width="0.14" text-anchor="middle">ATP6V1B2</text>
<text x="298.7" y="509.2" font-size="6.5" fill="#333" stroke="#333" stroke-width="0.14" text-anchor="middle">TP53</text>
<text x="334.6" y="508.8" font-size="6.5" fill="#333" stroke="#333" stroke-width="0.14" text-anchor="middle">PCBP1</text>
<text x="371.8" y="504.0" font-size="6.5" fill="#333" stroke="#333" stroke-width="0.14" text-anchor="middle">TFAP4</text>
<text x="366.3" y="528.1" font-size="6.5" fill="#333" stroke="#333" stroke-width="0.14" text-anchor="middle">DDX3X</text>
<text x="382.7" y="538.1" font-size="6.5" fill="#333" stroke="#333" stroke-width="0.14" text-anchor="middle">ID3</text>
<text x="349.8" y="549.6" font-size="6.5" fill="#333" stroke="#333" stroke-width="0.14" text-anchor="middle">FBXO11</text>
<text x="261.9" y="565.5" font-size="6.5" fill="#333" stroke="#333" stroke-width="0.14" text-anchor="middle">GNA13</text>
<text x="293.0" y="565.6" font-size="6.5" fill="#333" stroke="#333" stroke-width="0.14" text-anchor="middle">ARID1A</text>
<text x="279.4" y="585.6" font-size="6.5" fill="#333" stroke="#333" stroke-width="0.14" text-anchor="middle">PHF6</text>
<text x="315.8" y="583.0" font-size="6.5" fill="#333" stroke="#333" stroke-width="0.14" text-anchor="middle">SMARCA4</text>
<text x="393.0" y="545.8" font-size="6.4" fill="#444" stroke="#444" stroke-width="0.14" text-anchor="start">Tier 1 list(S)</text>
<circle cx="395.0" cy="553.1" r="2.3" fill="#55aa8a" fill-opacity="0.72" stroke="#55aa8a" stroke-opacity="0.8" stroke-width="0.4"/>
<text x="399.9" y="555.4" font-size="6.6" fill="#3a3a3a" stroke="#3a3a3a" stroke-width="0.14" text-anchor="start">All</text>
<circle cx="395.0" cy="562.3" r="2.3" fill="#e8845a" fill-opacity="0.72" stroke="#e8845a" stroke-opacity="0.8" stroke-width="0.4"/>
<text x="399.9" y="564.6" font-size="6.6" fill="#3a3a3a" stroke="#3a3a3a" stroke-width="0.14" text-anchor="start">BL and DLBCL</text>
<circle cx="395.0" cy="571.4" r="2.3" fill="#d884be" fill-opacity="0.72" stroke="#d884be" stroke-opacity="0.8" stroke-width="0.4"/>
<text x="399.9" y="573.7" font-size="6.6" fill="#3a3a3a" stroke="#3a3a3a" stroke-width="0.14" text-anchor="start">FL and DLBCL</text>
<circle cx="395.0" cy="580.6" r="2.3" fill="#9bbd52" fill-opacity="0.72" stroke="#9bbd52" stroke-opacity="0.8" stroke-width="0.4"/>
<text x="399.9" y="582.9" font-size="6.6" fill="#3a3a3a" stroke="#3a3a3a" stroke-width="0.14" text-anchor="start">DLBCL-only</text>
<circle cx="395.0" cy="589.8" r="2.3" fill="#f0d02c" fill-opacity="0.72" stroke="#f0d02c" stroke-opacity="0.8" stroke-width="0.4"/>
<text x="399.9" y="592.1" font-size="6.6" fill="#3a3a3a" stroke="#3a3a3a" stroke-width="0.14" text-anchor="start">FL-only</text>
<circle cx="395.0" cy="599.0" r="2.3" fill="#8299cc" fill-opacity="0.72" stroke="#8299cc" stroke-opacity="0.8" stroke-width="0.4"/>
<text x="399.9" y="601.2" font-size="6.6" fill="#3a3a3a" stroke="#3a3a3a" stroke-width="0.14" text-anchor="start">BL-only</text>
<rect x="0" y="0" width="520" height="1" fill="#555"/>
<rect x="0" y="0" width="1" height="701" fill="#5a5a5a"/>
<rect x="518.6" y="0" width="1.4" height="701" fill="#3c3c3c"/>
<rect x="0" y="699.6" width="520" height="1.4" fill="#3a3a3a"/>
</svg>
</body></html>
